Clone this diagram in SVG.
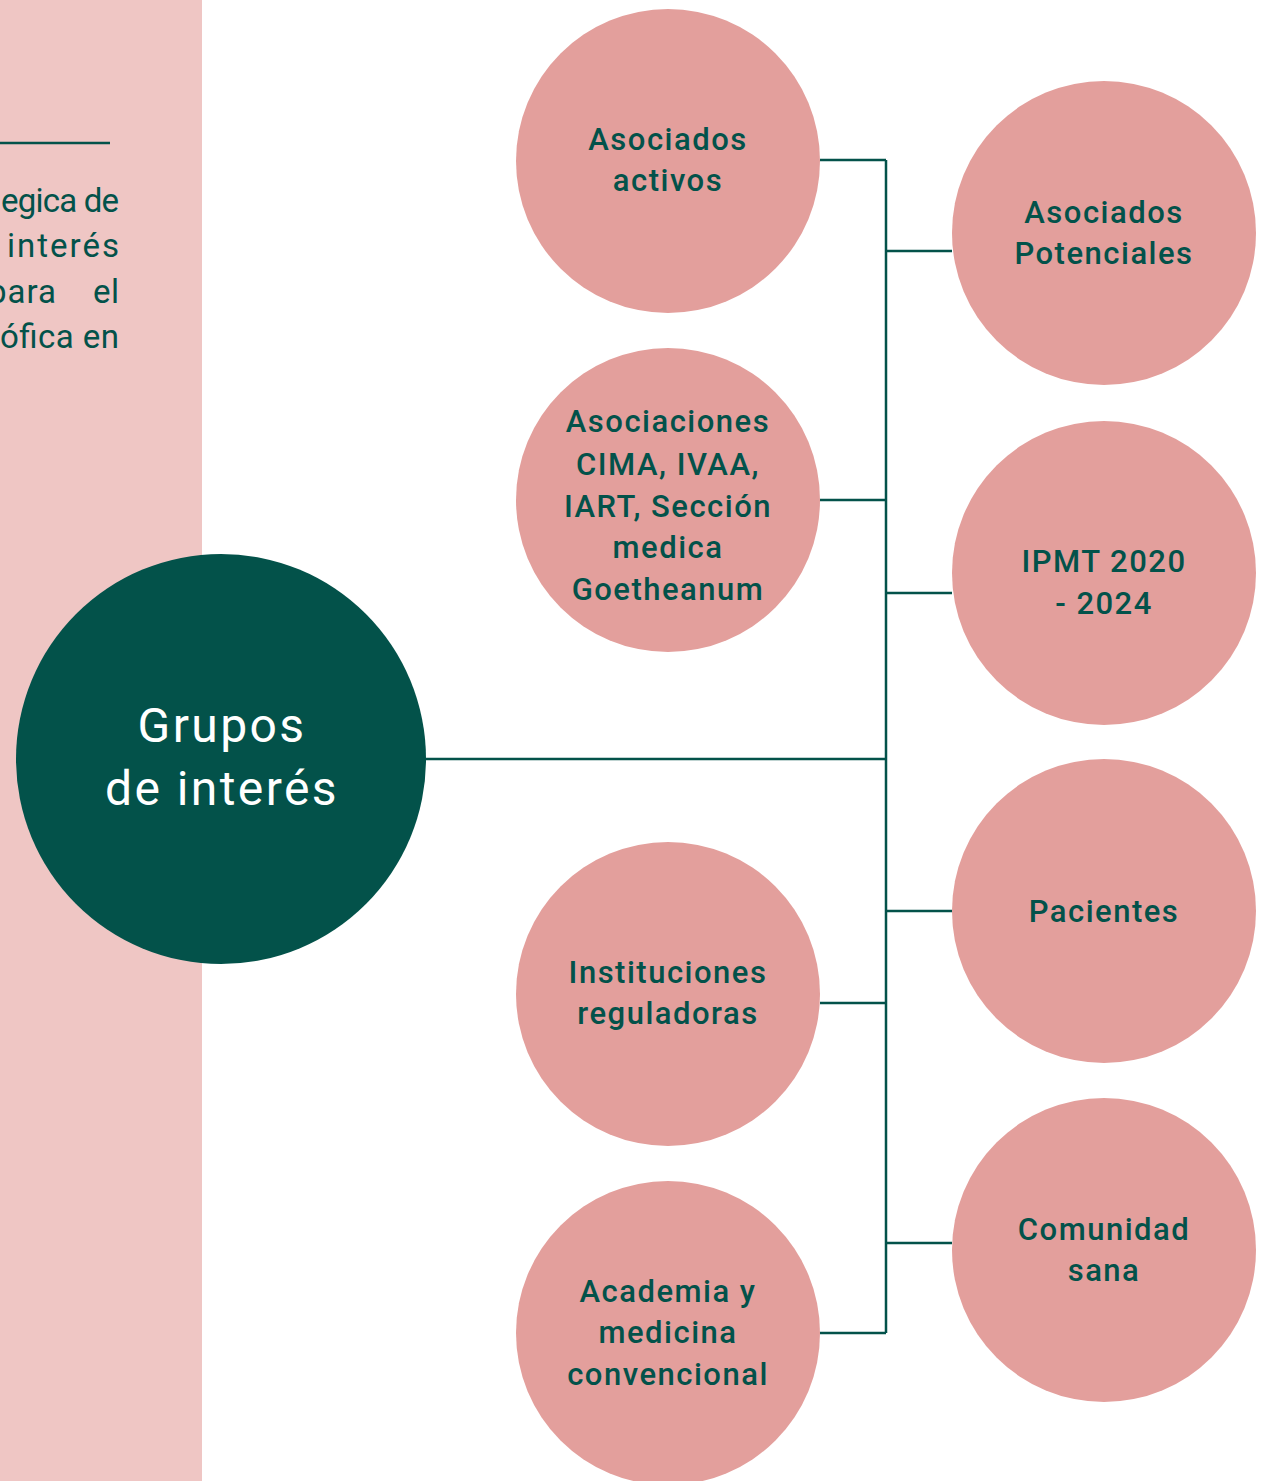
<svg xmlns="http://www.w3.org/2000/svg" width="1263" height="1481" viewBox="0 0 1263 1481">
<style>
.band{fill:#efc6c4}
.pink{fill:#e39f9c}
.dark{fill:#03524a}
.lbl{font-family:Roboto,"Liberation Sans",sans-serif;font-weight:500;font-size:31px;fill:#03524a;text-anchor:middle;letter-spacing:1.5px}
.big{font-family:Roboto,"Liberation Sans",sans-serif;font-weight:400;font-size:48px;fill:#ffffff;text-anchor:middle;letter-spacing:2.4px}
.side{font-family:Roboto,"Liberation Sans",sans-serif;font-weight:400;font-size:33px;fill:#03524a}
.conn{stroke:#03524a;stroke-width:2.5;fill:none}
</style>
<rect class="band" x="0" y="0" width="202" height="1481"/>
<g id="intro">
<line x1="0" y1="143" x2="110" y2="143" stroke="#03524a" stroke-width="2.5"/>
<text class="side" x="1" y="212" textLength="118" lengthAdjust="spacing">egica de</text>
<text class="side" x="7" y="257" textLength="112" lengthAdjust="spacing">interés</text>
<text class="side" x="-12" y="303" textLength="68" lengthAdjust="spacing">para</text>
<text class="side" x="93" y="303" textLength="26" lengthAdjust="spacing">el</text>
<text class="side" x="0" y="348" textLength="119" lengthAdjust="spacing">ófica en</text>
</g>
<g id="connectors">
<path class="conn" d="M886 160V1333"/>
<path class="conn" d="M820 160H886M820 500H886M820 1003H886M820 1333H886"/>
<path class="conn" d="M886 251H952M886 593H952M886 911H952M886 1243H952"/>
<path class="conn" d="M426 759H886"/>
</g>
<g id="grupos">
<circle class="dark" cx="221" cy="759" r="205"/>
<text class="big" x="222" y="742">Grupos</text>
<text class="big" x="222" y="805">de interés</text>
</g>
<g id="asociados-activos">
<circle class="pink" cx="668" cy="161" r="152"/>
<text class="lbl" x="668" y="150">Asociados</text>
<text class="lbl" x="668" y="191">activos</text>
</g>
<g id="asociaciones">
<circle class="pink" cx="668" cy="500" r="152"/>
<text class="lbl" x="668" y="432">Asociaciones</text>
<text class="lbl" x="668" y="475">CIMA, IVAA,</text>
<text class="lbl" x="668" y="517">IART, Sección</text>
<text class="lbl" x="668" y="558">medica</text>
<text class="lbl" x="668" y="600">Goetheanum</text>
</g>
<g id="instituciones">
<circle class="pink" cx="668" cy="994" r="152"/>
<text class="lbl" x="668" y="983">Instituciones</text>
<text class="lbl" x="668" y="1024">reguladoras</text>
</g>
<g id="academia">
<circle class="pink" cx="668" cy="1333" r="152"/>
<text class="lbl" x="668" y="1302">Academia y</text>
<text class="lbl" x="668" y="1343">medicina</text>
<text class="lbl" x="668" y="1385">convencional</text>
</g>
<g id="asociados-potenciales">
<circle class="pink" cx="1104" cy="233" r="152"/>
<text class="lbl" x="1104" y="223">Asociados</text>
<text class="lbl" x="1104" y="264">Potenciales</text>
</g>
<g id="ipmt">
<circle class="pink" cx="1104" cy="573" r="152"/>
<text class="lbl" x="1104" y="572">IPMT 2020</text>
<text class="lbl" x="1104" y="614">- 2024</text>
</g>
<g id="pacientes">
<circle class="pink" cx="1104" cy="911" r="152"/>
<text class="lbl" x="1104" y="922">Pacientes</text>
</g>
<g id="comunidad">
<circle class="pink" cx="1104" cy="1250" r="152"/>
<text class="lbl" x="1104" y="1240">Comunidad</text>
<text class="lbl" x="1104" y="1281">sana</text>
</g>
</svg>
